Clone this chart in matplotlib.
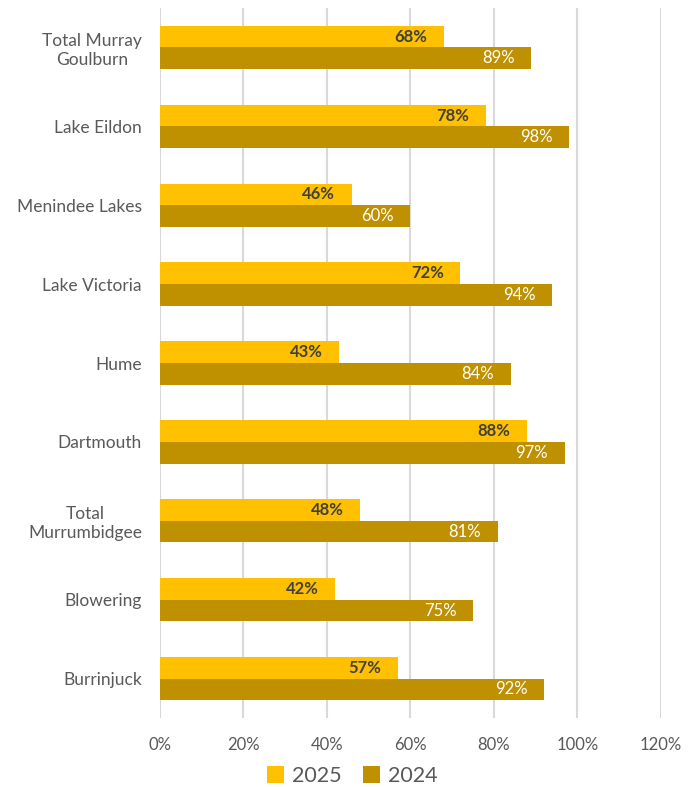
import numpy as np
import matplotlib
matplotlib.use("Agg")
import matplotlib.pyplot as plt

plt.rcParams['font.family'] = ['Lato', 'DejaVu Sans']

reservoirs = ['Total Murray\nGoulburn', 'Lake Eildon', 'Menindee Lakes', 'Lake Victoria',
              'Hume', 'Dartmouth', 'Total\nMurrumbidgee', 'Blowering', 'Burrinjuck']
pct_2025 = [68, 78, 46, 72, 43, 88, 48, 42, 57]
pct_2024 = [89, 98, 60, 94, 84, 97, 81, 75, 92]
xticks = [0, 20, 40, 60, 80, 100, 120]

c2025 = '#FFC000'
c2024 = '#BF9000'
grey = '#595959'

fig = plt.figure(figsize=(6.97, 7.87), dpi=100)
ax = fig.add_axes([0.2296, 0.0877, 0.7184, 0.9021])

y = np.arange(len(reservoirs))
h = 0.275
b1 = ax.barh(y - h / 2, np.array(pct_2025) / 100, height=h, color=c2025, label='2025', zorder=3)
b2 = ax.barh(y + h / 2, np.array(pct_2024) / 100, height=h, color=c2024, label='2024', zorder=3)

# value labels just inside the bar ends
for bar, v in zip(b1, pct_2025):
    ax.annotate('{}%'.format(v), (bar.get_width(), bar.get_y() + bar.get_height() / 2),
                xytext=(-12, 0), textcoords='offset points', ha='right', va='center',
                fontsize=12, fontweight='bold', color='#404040', zorder=4)
for bar, v in zip(b2, pct_2024):
    ax.annotate('{}%'.format(v), (bar.get_width(), bar.get_y() + bar.get_height() / 2),
                xytext=(-12, 0), textcoords='offset points', ha='right', va='center',
                fontsize=12, color='white', zorder=4)

ax.set_xlim(0, 1.2)
ax.set_ylim(len(reservoirs) - 0.5, -0.5)
ax.set_xticks([t / 100 for t in xticks])
ax.set_xticklabels(['{}%'.format(t) for t in xticks], fontsize=12, color=grey)
ax.set_yticks(y)
ax.set_yticklabels(reservoirs, fontsize=12.5, color=grey, multialignment='center')
ax.tick_params(length=0)
ax.tick_params(axis='x', pad=14)
ax.tick_params(axis='y', pad=13)
ax.grid(axis='x', color='#D9D9D9', linewidth=1.5, zorder=0)
for s in ax.spines.values():
    s.set_visible(False)

leg = fig.legend(handles=[b1, b2], labels=['2025', '2024'], loc='center',
                 bbox_to_anchor=(0.505, 0.014), ncol=2, frameon=False, fontsize=15.5,
                 handlelength=0.8, handleheight=0.8, handletextpad=0.35, columnspacing=1.0)
for t in leg.get_texts():
    t.set_color(grey)

fig.savefig('out.png', dpi=100)
